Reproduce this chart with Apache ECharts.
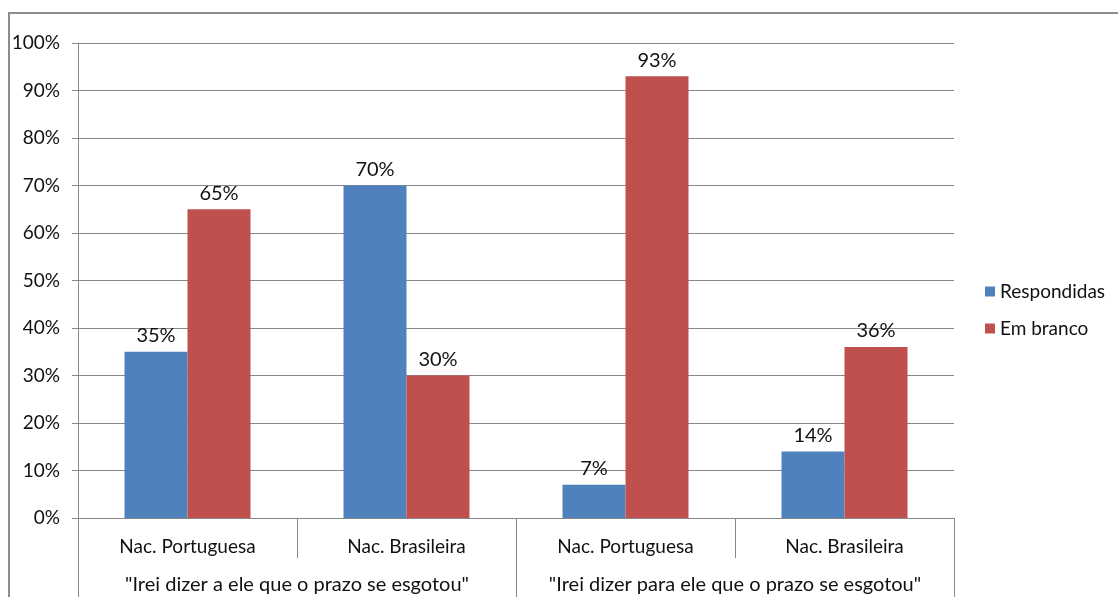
<!DOCTYPE html>
<html>
<head>
<meta charset="utf-8">
<script src="https://cdn.jsdelivr.net/npm/echarts@6/dist/echarts.min.js"></script>
<style>
  html, body { margin: 0; padding: 0; background: #fff; }
  #chart { width: 1118px; height: 597px; }
</style>
</head>
<body>
<div id="chart"></div>
<script>
// data
let categories = ['Nac. Portuguesa', 'Nac. Brasileira', 'Nac. Portuguesa', 'Nac. Brasileira']
let phrases = ['"Irei dizer a ele que o prazo se esgotou"', '"Irei dizer para ele que o prazo se esgotou"']
let respondidas = [35, 70, 7, 14]
let emBranco = [65, 30, 93, 36]
let seriesNames = ['Respondidas', 'Em branco']

let font = 'Lato'
let txt = '#111111'
let gray = '#888888'

let myChart = echarts.init(document.getElementById('chart'))
let option = {
  animation: false,
  textStyle: { fontFamily: font },
  graphic: [{
    type: 'rect',
    shape: { x: 9, y: 13, width: 1200, height: 700 },
    style: { fill: 'none', stroke: '#8c8c8c', lineWidth: 2 },
    silent: true
  }],
  legend: {
    orient: 'vertical',
    left: 980,
    top: 277,
    icon: 'rect',
    itemWidth: 10,
    itemHeight: 10,
    itemGap: 18,
    data: seriesNames,
    textStyle: { fontFamily: font, fontSize: 19, color: txt }
  },
  grid: { left: 78, right: 164, top: 43, bottom: 79, containLabel: false },
  xAxis: [
    {
      type: 'category',
      data: categories,
      position: 'bottom',
      axisLine: { show: true, lineStyle: { color: gray } },
      axisTick: { show: true, interval: 0, length: 40, lineStyle: { color: gray } },
      axisLabel: { interval: 0, margin: 19, fontSize: 19, color: txt, fontFamily: font },
      splitLine: { show: false }
    },
    {
      type: 'category',
      data: phrases,
      position: 'bottom',
      axisLine: { show: true, lineStyle: { color: gray } },
      axisTick: { show: true, interval: 0, length: 85, lineStyle: { color: gray } },
      axisLabel: { interval: 0, margin: 57, fontSize: 20, color: txt, fontFamily: font },
      splitLine: { show: false }
    }
  ],
  yAxis: {
    type: 'value',
    min: 0,
    max: 100,
    interval: 10,
    axisLine: { show: true, lineStyle: { color: gray } },
    axisTick: { show: true, length: 6, lineStyle: { color: gray } },
    axisLabel: { formatter: '{value}%', margin: 18, fontSize: 19, color: txt, fontFamily: font },
    splitLine: { show: true, lineStyle: { color: gray, width: 1 } }
  },
  series: [
    {
      name: seriesNames[0],
      type: 'bar',
      xAxisIndex: 0,
      data: respondidas,
      barWidth: 63,
      barGap: '0%',
      itemStyle: { color: '#4F81BD' },
      label: { show: true, position: 'top', distance: 6, formatter: '{c}%', fontSize: 20, color: txt, fontFamily: font }
    },
    {
      name: seriesNames[1],
      type: 'bar',
      xAxisIndex: 0,
      data: emBranco,
      barWidth: 63,
      barGap: '0%',
      itemStyle: { color: '#C0504D' },
      label: { show: true, position: 'top', distance: 6, formatter: '{c}%', fontSize: 20, color: txt, fontFamily: font }
    }
  ]
}
myChart.setOption(option)
</script>
</body>
</html>
